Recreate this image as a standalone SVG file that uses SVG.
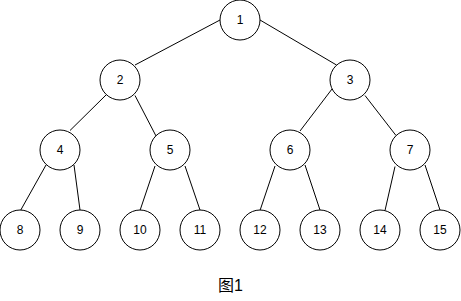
<svg xmlns="http://www.w3.org/2000/svg" width="461" height="301" viewBox="0 0 461 301">
<style>
.n circle{fill:#fff;stroke:#000;stroke-width:1}
.n text{font-family:"Liberation Sans",Arial,sans-serif;font-size:12px;fill:#000;text-anchor:middle}
#edges line{stroke:#000;stroke-width:1}
.cap{font-family:"Liberation Sans","Noto Sans CJK SC",sans-serif;font-size:16px;fill:#000;text-anchor:middle}
</style>
<rect width="461" height="301" fill="#fff"/>
<g id="edges">
<line x1="220" y1="20" x2="135" y2="65"/>
<line x1="260" y1="20" x2="336.5" y2="65"/>
<line x1="106" y1="95" x2="70" y2="130.5"/>
<line x1="135" y1="95.5" x2="156" y2="136"/>
<line x1="332" y1="89" x2="300" y2="131"/>
<line x1="365" y1="95.5" x2="396" y2="135.5"/>
<line x1="46" y1="165" x2="20.5" y2="210.5"/>
<line x1="74" y1="165" x2="80" y2="210"/>
<line x1="155" y1="166" x2="140" y2="210.5"/>
<line x1="185" y1="166" x2="200" y2="210"/>
<line x1="275" y1="166" x2="260" y2="210.5"/>
<line x1="305" y1="165" x2="320" y2="210"/>
<line x1="395" y1="166.5" x2="385" y2="210.5"/>
<line x1="425" y1="165" x2="440" y2="210"/>
</g>
<g id="node1" class="n"><circle cx="240" cy="20" r="20"/><text x="240" y="24">1</text></g>
<g id="node2" class="n"><circle cx="120" cy="80" r="20"/><text x="120" y="84">2</text></g>
<g id="node3" class="n"><circle cx="350" cy="80" r="20"/><text x="350" y="84">3</text></g>
<g id="node4" class="n"><circle cx="60" cy="150" r="20"/><text x="60" y="154">4</text></g>
<g id="node5" class="n"><circle cx="170" cy="150" r="20"/><text x="170" y="154">5</text></g>
<g id="node6" class="n"><circle cx="290" cy="150" r="20"/><text x="290" y="154">6</text></g>
<g id="node7" class="n"><circle cx="410" cy="150" r="20"/><text x="410" y="154">7</text></g>
<g id="node8" class="n"><circle cx="20" cy="230" r="20"/><text x="20" y="234">8</text></g>
<g id="node9" class="n"><circle cx="80" cy="230" r="20"/><text x="80" y="234">9</text></g>
<g id="node10" class="n"><circle cx="140" cy="230" r="20"/><text x="140" y="234">10</text></g>
<g id="node11" class="n"><circle cx="200" cy="230" r="20"/><text x="200" y="234">11</text></g>
<g id="node12" class="n"><circle cx="260" cy="230" r="20"/><text x="260" y="234">12</text></g>
<g id="node13" class="n"><circle cx="320" cy="230" r="20"/><text x="320" y="234">13</text></g>
<g id="node14" class="n"><circle cx="380" cy="230" r="20"/><text x="380" y="234">14</text></g>
<g id="node15" class="n"><circle cx="440" cy="230" r="20"/><text x="440" y="234">15</text></g>
<text class="cap" x="230.5" y="291">图1</text>
</svg>
